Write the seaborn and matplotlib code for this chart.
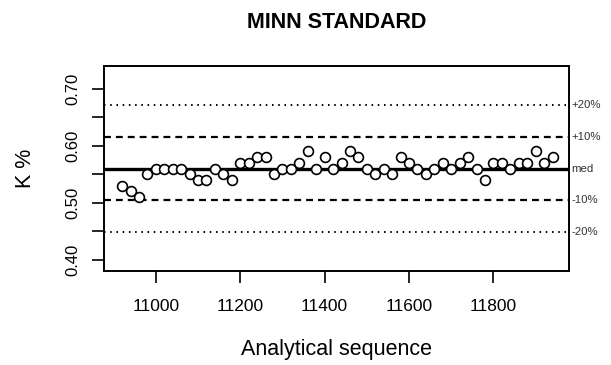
import numpy as np
import pandas as pd
import seaborn as sns
import matplotlib
matplotlib.use('Agg')
import matplotlib.pyplot as plt

# analytical sequence numbers and K % of the MINN standard
seq = [10920, 10940, 10960, 10980, 11000, 11020, 11040, 11060, 11080, 11100,
       11120, 11140, 11160, 11180, 11200, 11220, 11240, 11260, 11280, 11300,
       11320, 11340, 11360, 11380, 11400, 11420, 11440, 11460, 11480, 11500,
       11520, 11540, 11560, 11580, 11600, 11620, 11640, 11660, 11680, 11700,
       11720, 11740, 11760, 11780, 11800, 11820, 11840, 11860, 11880, 11900,
       11920, 11940]
k_pct = [0.53, 0.52, 0.51, 0.55, 0.56, 0.56, 0.56, 0.56, 0.55, 0.54,
         0.54, 0.56, 0.55, 0.54, 0.57, 0.57, 0.58, 0.58, 0.55, 0.56,
         0.56, 0.57, 0.59, 0.56, 0.58, 0.56, 0.57, 0.59, 0.58, 0.56,
         0.55, 0.56, 0.55, 0.58, 0.57, 0.56, 0.55, 0.56, 0.57, 0.56,
         0.57, 0.58, 0.56, 0.54, 0.57, 0.57, 0.56, 0.57, 0.57, 0.59,
         0.57, 0.58]

x_ticks = [11000, 11200, 11400, 11600, 11800]
y_ticks = [0.40, 0.45, 0.50, 0.55, 0.60, 0.65, 0.70]
y_ticklabels = ['0.40', '', '0.50', '', '0.60', '', '0.70']

# control limits relative to the median
limit_factors = [1.2, 1.1, 1.0, 0.9, 0.8]
limit_labels = ['+20%', '+10%', 'med', '-10%', '-20%']
limit_styles = [(0, (0.8, 2.4)), (0, (3.1, 2.25)), '-', (0, (3.1, 2.25)), (0, (0.8, 2.4))]
limit_widths = [1.4, 1.6, 2.4, 1.6, 1.4]

df = pd.DataFrame({'seq': seq, 'k': k_pct})
med = np.median(df['k'])

sns.set_style('white')
plt.rcParams['font.family'] = ['Liberation Sans', 'DejaVu Sans']
plt.rcParams['text.color'] = 'black'
plt.rcParams['xtick.color'] = 'black'
plt.rcParams['ytick.color'] = 'black'
plt.rcParams['axes.labelcolor'] = 'black'

fig = plt.figure(figsize=(6.11, 3.65), dpi=100)
ax = fig.add_axes([0.1694, 0.2575, 0.7625, 0.5617])

for f, lab, ls, lw in zip(limit_factors, limit_labels, limit_styles, limit_widths):
    ax.axhline(med * f, color='black', linestyle=ls, linewidth=lw, zorder=1)
    ax.text(1.004, med * f, lab, transform=ax.get_yaxis_transform(),
            ha='left', va='center', fontsize=8.2, color='#333333')

sns.scatterplot(data=df, x='seq', y='k', ax=ax, marker='o', s=50,
                facecolor='white', edgecolor='black', linewidth=1.2, zorder=3)

ax.set_xlim(10876, 11980)
ax.set_ylim(0.38, 0.74)
ax.set_xticks(x_ticks)
ax.set_xticklabels([str(t) for t in x_ticks], fontsize=12.5)
ax.set_yticks(y_ticks)
ax.set_yticklabels(y_ticklabels, fontsize=12, rotation=90, va='center')
ax.tick_params(axis='both', direction='out', length=8.5, width=1.2,
               color='black', left=True, bottom=True)
ax.tick_params(axis='x', pad=12)
ax.tick_params(axis='y', pad=8)

for sp in ax.spines.values():
    sp.set_visible(True)
    sp.set_color('black')
    sp.set_linewidth(1.4)

ax.set_xlabel('Analytical sequence', fontsize=15.5, labelpad=18)
ax.set_ylabel('K %', fontsize=15.5, labelpad=21)
ax.set_title('MINN STANDARD', fontsize=15.5, fontweight='bold', pad=27)

fig.savefig('out.png', dpi=100)
